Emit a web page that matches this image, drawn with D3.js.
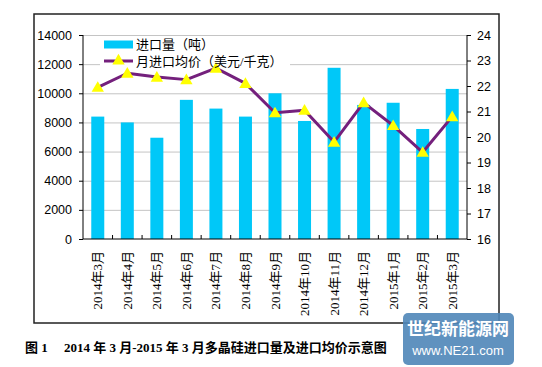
<!DOCTYPE html>
<html>
<head>
<meta charset="utf-8">
<script src="https://cdn.jsdelivr.net/npm/d3@7"></script>
<style>
  body { margin: 0; background: #fff; }
  svg { display: block; }
</style>
</head>
<body>
<script>
// months, import volume (tons) and avg price (USD/kg)
const months = ["2014年3月","2014年4月","2014年5月","2014年6月","2014年7月","2014年8月","2014年9月",
                "2014年10月","2014年11月","2014年12月","2015年1月","2015年2月","2015年3月"];
const volume = [8400, 8000, 6950, 9550, 8950, 8400, 10000, 8100, 11750, 9200, 9350, 7550, 10300];
const price = [21.95, 22.5, 22.35, 22.25, 22.7, 22.1, 20.95, 21.05, 19.8, 21.35, 20.45, 19.4, 20.8];
const leftTicks = [0, 2000, 4000, 6000, 8000, 10000, 12000, 14000];
const rightTicks = [16, 17, 18, 19, 20, 21, 22, 23, 24];

const width = 542, height = 367;
const m = {left: 83, right: 467, top: 35, bottom: 239};

const svg = d3.select("body").append("svg").attr("width", width).attr("height", height);

// outer frame
svg.append("rect").attr("x", 34).attr("y", 14).attr("width", 465).attr("height", 309)
  .attr("fill", "none").attr("stroke", "#222").attr("stroke-width", 1.5);

const x = d3.scaleBand().domain(months).range([m.left, m.right]).paddingInner(0.56).paddingOuter(0.28);
const y = d3.scaleLinear().domain([0, 14000]).range([m.bottom, m.top]);
const y2 = d3.scaleLinear().domain([16, 24]).range([m.bottom, m.top]);

// gridlines
svg.append("g").selectAll("line").data(leftTicks.slice(1)).enter().append("line")
  .attr("x1", m.left).attr("x2", m.right)
  .attr("y1", d => y(d) + 0.5).attr("y2", d => y(d) + 0.5)
  .attr("stroke", "#c4c4c4").attr("stroke-width", 1);

// bars
svg.append("g").selectAll("rect").data(volume).enter().append("rect")
  .attr("x", (d, i) => x(months[i]))
  .attr("width", x.bandwidth())
  .attr("y", d => y(d))
  .attr("height", d => y(0) - y(d))
  .attr("fill", "#00c8f8");

// legend background (hides gridline)
svg.append("rect").attr("x", 100).attr("y", 37).attr("width", 190).attr("height", 32).attr("fill", "#fff");

// line
const line = d3.line().x((d, i) => x(months[i]) + x.bandwidth() / 2).y(d => y2(d));
svg.append("path").datum(price).attr("d", line)
  .attr("fill", "none").attr("stroke", "#74207c").attr("stroke-width", 3).attr("stroke-linejoin", "round");

const tri = d3.symbol().type(d3.symbolTriangle).size(66);
svg.append("g").selectAll("path").data(price).enter().append("path")
  .attr("d", tri)
  .attr("transform", (d, i) => `translate(${x(months[i]) + x.bandwidth() / 2},${y2(d) + 1})`)
  .attr("fill", "#ffff00");

// axes
const fontNum = "Arial, 'Liberation Sans', sans-serif";
const gl = svg.append("g").attr("transform", `translate(${m.left},0)`)
  .call(d3.axisLeft(y).tickValues(leftTicks).tickFormat(d3.format("d")).tickSize(4).tickPadding(7).tickSizeOuter(0));
const gr = svg.append("g").attr("transform", `translate(${m.right},0)`)
  .call(d3.axisRight(y2).tickValues(rightTicks).tickSize(4).tickPadding(6).tickSizeOuter(0));
[gl, gr].forEach(g => {
  g.selectAll("text").attr("font-family", fontNum).attr("font-size", "12.5px").attr("fill", "#000");
  g.selectAll("line, path").attr("stroke", "#000");
});
gl.select(".domain").attr("d", `M0,${m.bottom}V${m.top}`);
gr.select(".domain").attr("d", `M0,${m.bottom}V${m.top}`);

// x axis
svg.append("line").attr("x1", m.left).attr("x2", m.right).attr("y1", m.bottom).attr("y2", m.bottom)
  .attr("stroke", "#000");
const step = (m.right - m.left) / months.length;
svg.append("g").selectAll("line").data(d3.range(1, months.length)).enter().append("line")
  .attr("x1", d => m.left + d * step).attr("x2", d => m.left + d * step)
  .attr("y1", m.bottom).attr("y2", m.bottom - 4).attr("stroke", "#000");

svg.append("g").selectAll("text").data(months).enter().append("text")
  .attr("transform", d => `translate(${x(d) + x.bandwidth() / 2 + 4.5},${m.bottom + 12}) rotate(-90)`)
  .attr("text-anchor", "end")
  .attr("font-family", "'Liberation Serif', 'Noto Sans CJK SC', serif")
  .attr("font-size", "13px")
  .text(d => d);

// legend
const fontCn = "'Liberation Serif', 'Noto Sans CJK SC', serif";
svg.append("rect").attr("x", 104).attr("y", 40.5).attr("width", 29).attr("height", 8).attr("fill", "#00c8f8");
svg.append("text").attr("x", 136).attr("y", 49).attr("font-family", fontCn).attr("font-size", "13px").text("进口量（吨）");
svg.append("line").attr("x1", 104).attr("x2", 133).attr("y1", 61).attr("y2", 61)
  .attr("stroke", "#74207c").attr("stroke-width", 3);
svg.append("path").attr("d", tri).attr("transform", "translate(118.5,61)").attr("fill", "#ffff00");
svg.append("text").attr("x", 136).attr("y", 65.5).attr("font-family", fontCn).attr("font-size", "13px").text("月进口均价（美元/千克）");

// caption
svg.append("text").attr("x", 25).attr("y", 352)
  .attr("font-family", fontCn).attr("font-size", "13px").attr("font-weight", "bold")
  .text("图 1\u3000 2014 年 3 月-2015 年 3 月多晶硅进口量及进口均价示意图");

// watermark
const wm = svg.append("g");
wm.append("rect").attr("x", 403).attr("y", 313).attr("width", 111).attr("height", 52).attr("rx", 5)
  .attr("fill", "#4f86b8").attr("opacity", 0.9);
wm.append("text").attr("x", 458).attr("y", 335).attr("text-anchor", "middle")
  .attr("font-family", "'Noto Sans CJK SC', sans-serif").attr("font-size", "17px").attr("font-weight", "bold")
  .attr("fill", "#fff").text("世纪新能源网");
wm.append("text").attr("x", 458).attr("y", 355).attr("text-anchor", "middle")
  .attr("font-family", "Arial, sans-serif").attr("font-size", "13px")
  .attr("fill", "#fff").text("www.NE21.com");
</script>
</body>
</html>
